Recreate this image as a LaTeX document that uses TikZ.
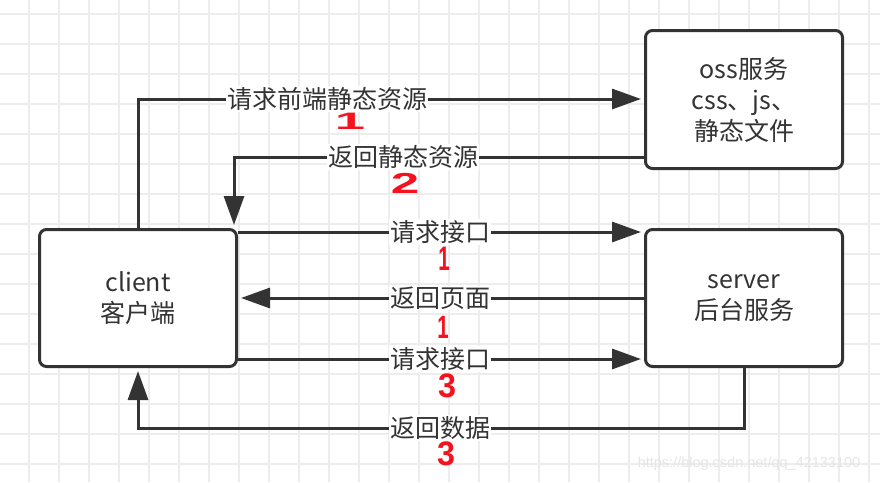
\documentclass[tikz,border=0pt]{standalone}
\usepackage{fontspec}
\setmainfont{Noto Sans CJK SC}
\newfontfamily\numfont{Liberation Sans}
\usetikzlibrary{arrows.meta}
\definecolor{ink}{HTML}{333333}
\definecolor{gridc}{HTML}{EDEDED}
\definecolor{mark}{HTML}{F5121E}
\tikzset{
  box/.style={draw=ink, line width=3pt, rounded corners=7pt, fill=white,
    minimum width=197pt, minimum height=137pt, align=center,
    font=\fontsize{25pt}{31pt}\selectfont, text=ink, inner sep=0pt},
  conn/.style={draw=ink, line width=3pt,
    -{Triangle[length=29pt,width=20pt]}, shorten >=3pt},
  lbl/.style={fill=white, text=ink, inner sep=1pt,
    font=\fontsize{25pt}{30pt}\selectfont},
  redmark/.style={text=mark, inner sep=0pt,
    font=\numfont\bfseries\fontsize{34pt}{34pt}\selectfont},
  gridline/.style={draw=gridc, line width=1.6pt},
}
\begin{document}
\begin{tikzpicture}[x=1pt,y=-1pt]
\useasboundingbox (0,0) rectangle (880,482);
\fill[white] (0,0) rectangle (880,482);
% grid
\foreach \x in {29,59,...,869} \draw[gridline] (\x,0) -- (\x,482);
\foreach \y in {14,44,...,464} \draw[gridline] (0,\y) -- (880,\y);
% boxes
\node[box] (client) at (138,298) {client\\客户端};
\node[box, minimum height=138pt] (oss) at (744,99.5) {oss服务\\css、js、\\静态文件};
\node[box] (server) at (744,298) {server\\后台服务};
% connectors
\coordinate (c1) at (138,99);
\coordinate (c2) at (234,157);
\coordinate (c6) at (138,428);
\draw[conn] (client.north) -- (c1) -- (oss.west |- c1);
\draw[conn] (oss.west |- c2) -- (c2) -- (c2 |- client.north);
\draw[conn] (client.east |- 0,232) -- (server.west |- 0,232);
\draw[conn] (server.west |- 0,298) -- (client.east |- 0,298);
\draw[conn] (client.east |- 0,359) -- (server.west |- 0,359);
\draw[conn] (server.south) |- (c6) -- (client.south);
% labels
\node[lbl] (l1) at (327,99) {请求前端静态资源};
\node[lbl] (l2) at (403,157) {返回静态资源};
\node[lbl] (l3) at (440,232) {请求接口};
\node[lbl] (l4) at (440,298) {返回页面};
\node[lbl] (l5) at (440,359) {请求接口};
\node[lbl] (l6) at (440,428) {返回数据};
% red hand-written marks
\node[redmark] (m1) at (350,121) {\scalebox{1.6}[0.7]{1}};
\node[redmark] (m2) at (405,183) {\scalebox{1.5}[0.85]{2}};
\node[redmark] (m3) at (444,259) {\scalebox{0.6}[1.0]{1}};
\node[redmark] (m4) at (443,327) {\scalebox{0.6}[0.95]{1}};
\node[redmark] (m5) at (447,386) {\scalebox{0.95}[1.0]{3}};
\node[redmark] (m6) at (446,454) {\scalebox{0.95}[1.0]{3}};
% watermark
\node[text=black!10, inner sep=0pt, font=\numfont\fontsize{14.5pt}{14.5pt}\selectfont] (wm) at (749,464) {https://blog.csdn.net/qq\_42133100};
\end{tikzpicture}
\end{document}
